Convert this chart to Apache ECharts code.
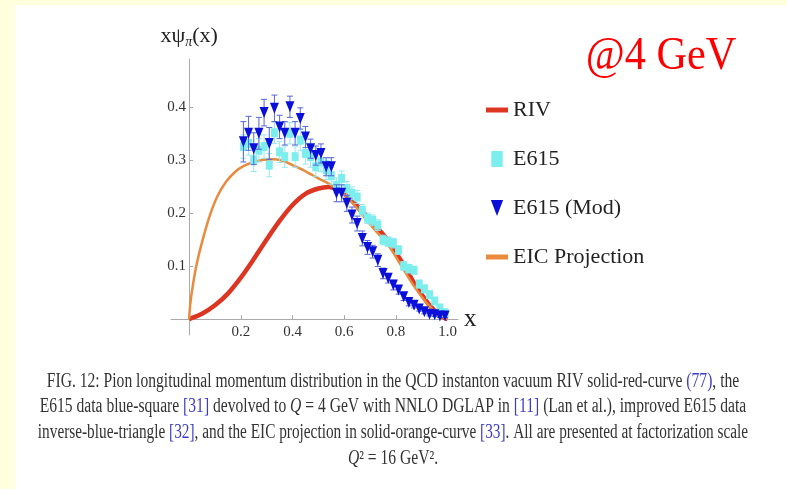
<!DOCTYPE html>
<html>
<head>
<meta charset="utf-8">
<script src="https://cdn.jsdelivr.net/npm/echarts@6/dist/echarts.min.js"></script>
<style>
  html, body { margin: 0; padding: 0; background: #ffffdd; }
  #panel { position: absolute; left: 15px; top: 5px; width: 772px; height: 484px; background: #fff; }
  #chart { position: absolute; left: 0; top: 0; width: 787px; height: 489px; }
</style>
</head>
<body>
<div id="panel"></div>
<div id="chart"></div>
<script>
// x positions of the E615 points (both sets share them)
var xPoints = [0.21, 0.23, 0.25, 0.27, 0.29, 0.31, 0.33, 0.35, 0.37, 0.39,
               0.41, 0.43, 0.45, 0.47, 0.49, 0.51, 0.53, 0.55, 0.57, 0.59,
               0.61, 0.63, 0.65, 0.67, 0.69, 0.71, 0.73, 0.75, 0.77, 0.79,
               0.81, 0.83, 0.85, 0.87, 0.89, 0.91, 0.93, 0.95, 0.97, 0.99];
var e615 = [0.325, 0.331, 0.300, 0.318, 0.325, 0.290, 0.351, 0.315, 0.306, 0.350,
            0.306, 0.337, 0.312, 0.306, 0.287, 0.296, 0.281, 0.270, 0.252, 0.265,
            0.246, 0.237, 0.230, 0.205, 0.190, 0.186, 0.177, 0.149, 0.146, 0.143,
            0.130, 0.100, 0.095, 0.092, 0.066, 0.057, 0.046, 0.034, 0.021, 0.012];
var e615Err = [0.022, 0.022, 0.022, 0.022, 0.022, 0.022, 0.02, 0.02, 0.02, 0.02,
               0.02, 0.02, 0.02, 0.02, 0.018, 0.018, 0.018, 0.016, 0.014, 0.014,
               0.013, 0.012, 0.012, 0.011, 0.01, 0.01, 0.01, 0.009, 0.009, 0.009,
               0.008, 0.008, 0.008, 0.007, 0.007, 0.006, 0.006, 0.005, 0.005, 0.005];
var e615Mod = [0.334, 0.350, 0.321, 0.350, 0.389, 0.331, 0.397, 0.362, 0.350, 0.400,
               0.350, 0.378, 0.343, 0.321, 0.308, 0.312, 0.287, 0.287, 0.237, 0.237,
               0.218, 0.196, 0.180, 0.152, 0.135, 0.127, 0.111, 0.086, 0.077, 0.064,
               0.055, 0.042, 0.031, 0.026, 0.019, 0.014, 0.009, 0.008, 0.006, 0.006];
var e615ModErr = [0.038, 0.032, 0.03, 0.03, 0.025, 0.03, 0.025, 0.022, 0.022, 0.02,
                  0.022, 0.02, 0.02, 0.018, 0.018, 0.018, 0.017, 0.017, 0.016, 0.016,
                  0.015, 0.015, 0.014, 0.014, 0.013, 0.012, 0.012, 0.01, 0.009, 0.009,
                  0.008, 0.007, 0.006, 0.005, 0.004, 0.004, 0.003, 0.003, 0.003, 0.003];
// curves [x, y]
var rivCurve = [[0, 0], [0.05, 0.01], [0.1, 0.026], [0.15, 0.048], [0.2, 0.078], [0.25, 0.113],
                [0.3, 0.15], [0.35, 0.185], [0.4, 0.215], [0.45, 0.236], [0.5, 0.246], [0.54, 0.249],
                [0.57, 0.245], [0.6, 0.236], [0.64, 0.218], [0.68, 0.198], [0.72, 0.176], [0.76, 0.154],
                [0.8, 0.125], [0.84, 0.094], [0.87, 0.068], [0.9, 0.046], [0.93, 0.026], [0.96, 0.011],
                [0.98, 0.004], [1.0, 0]];
var eicCurve = [[0, 0], [0.005, 0.03], [0.015, 0.065], [0.03, 0.105], [0.05, 0.145], [0.08, 0.195],
                [0.11, 0.232], [0.145, 0.26], [0.18, 0.278], [0.21, 0.288], [0.25, 0.296], [0.29, 0.3],
                [0.33, 0.301], [0.37, 0.297], [0.4, 0.29], [0.44, 0.281], [0.47, 0.273], [0.5, 0.265],
                [0.53, 0.258], [0.56, 0.249], [0.6, 0.234], [0.64, 0.214], [0.68, 0.19], [0.72, 0.167],
                [0.76, 0.146], [0.8, 0.117], [0.84, 0.085], [0.87, 0.062], [0.9, 0.042], [0.93, 0.024],
                [0.96, 0.01], [0.98, 0.004], [1.0, 0]];
var xTicks = [0.2, 0.4, 0.6, 0.8, 1.0];
var yTicks = [0.1, 0.2, 0.3, 0.4];

var serif = 'Liberation Serif';

function points(ys) {
    return xPoints.map(function (x, i) { return [x, ys[i]]; });
}
function bars(ys, errs) {
    return xPoints.map(function (x, i) { return [x, ys[i] - errs[i], ys[i] + errs[i]]; });
}
function errorBars(color) {
    return function (params, api) {
        var lo = api.coord([api.value(0), api.value(1)]);
        var hi = api.coord([api.value(0), api.value(2)]);
        var st = { stroke: color, lineWidth: 1 };
        return {
            type: 'group',
            children: [
                { type: 'line', shape: { x1: lo[0], y1: lo[1], x2: hi[0], y2: hi[1] }, style: st },
                { type: 'line', shape: { x1: lo[0] - 3, y1: lo[1], x2: lo[0] + 3, y2: lo[1] }, style: st },
                { type: 'line', shape: { x1: hi[0] - 3, y1: hi[1], x2: hi[0] + 3, y2: hi[1] }, style: st }
            ]
        };
    };
}

var chart = echarts.init(document.getElementById('chart'));
var option = {
    animation: false,
    textStyle: { fontFamily: serif },
    grid: { left: 171, top: 59, width: 287, height: 276 },
    legend: {
        orient: 'vertical',
        left: 481,
        top: 92,
        itemWidth: 22,
        itemHeight: 16,
        itemGap: 23,
        selectedMode: false,
        textStyle: { fontFamily: serif, fontSize: 22, color: '#222', lineHeight: 26 },
        data: [
            { name: 'RIV', icon: 'path://M0,0h22v5h-22z' },
            { name: 'E615', icon: 'path://M0,0h10v14h-10z' },
            { name: 'E615 (Mod)', icon: 'path://M0,0h13l-6.5,17z' },
            { name: 'EIC Projection', icon: 'path://M0,0h22v5h-22z' }
        ]
    },
    xAxis: {
        type: 'value',
        min: -0.07,
        max: 1.04,
        name: 'x',
        nameLocation: 'end',
        nameGap: 6,
        nameTextStyle: { fontFamily: serif, fontSize: 25, color: '#222', verticalAlign: 'middle', padding: [4, 0, 0, 0] },
        axisLine: { onZero: true, lineStyle: { color: '#aaa', width: 1 } },
        axisTick: { customValues: xTicks, inside: true, length: 4, lineStyle: { color: '#aaa' } },
        axisLabel: {
            customValues: xTicks,
            margin: -10,
            fontFamily: serif,
            fontSize: 15,
            color: '#333',
            formatter: function (v) { return v.toFixed(1); }
        },
        splitLine: { show: false }
    },
    yAxis: {
        type: 'value',
        min: -0.03,
        max: 0.49,
        name: '{a|xψ}{b|π}{a|(x)}',
        nameLocation: 'end',
        nameGap: 10,
        nameTextStyle: {
            rich: {
                a: { fontFamily: serif, fontSize: 22, color: '#222' },
                b: { fontFamily: serif, fontSize: 14, fontStyle: 'italic', color: '#222', padding: [12, 0, 0, 0] }
            }
        },
        axisLine: { onZero: true, lineStyle: { color: '#aaa', width: 1 } },
        axisTick: { customValues: yTicks, inside: true, length: 4, lineStyle: { color: '#aaa' } },
        axisLabel: {
            customValues: yTicks,
            margin: -15,
            fontFamily: serif,
            fontSize: 15,
            color: '#333',
            formatter: function (v) { return v.toFixed(1); }
        },
        splitLine: { show: false }
    },
    series: [
        {
            name: 'RIV', type: 'line', data: rivCurve, smooth: 0.3, showSymbol: false,
            color: '#dc3522', lineStyle: { width: 4.5, color: '#dc3522' }, z: 2
        },
        {
            name: 'EIC Projection', type: 'line', data: eicCurve, smooth: 0.3, showSymbol: false,
            color: '#ea8a3c', lineStyle: { width: 2.5, color: '#ea8a3c' }, z: 3
        },
        {
            name: 'E615 err', type: 'custom', data: bars(e615, e615Err),
            renderItem: errorBars('#98e6ef'), z: 4
        },
        {
            name: 'E615', type: 'scatter', data: points(e615), symbol: 'rect', symbolSize: [7, 9],
            color: '#7deeee', itemStyle: { color: '#7deeee', opacity: 1 }, z: 5
        },
        {
            name: 'E615 (Mod) err', type: 'custom', data: bars(e615Mod, e615ModErr),
            renderItem: errorBars('#5566d6'), z: 6
        },
        {
            name: 'E615 (Mod)', type: 'scatter', data: points(e615Mod), symbol: 'triangle',
            symbolRotate: 180, symbolSize: [9, 11],
            color: '#0a10d8', itemStyle: { color: '#0a10d8', opacity: 1 }, z: 7
        }
    ],
    graphic: [
        {
            type: 'text', x: 661, y: 57, scaleX: 0.92,
            style: { text: '@4 GeV', font: '46px "Liberation Serif"', fill: '#ff0000', align: 'center', verticalAlign: 'middle' }
        },
        {
            type: 'text', x: 393, y: 382, scaleX: 0.78,
            style: {
                text: 'FIG. 12: Pion longitudinal momentum distribution in the QCD instanton vacuum RIV solid-red-curve {b|(77)}, the',
                font: '20px "Liberation Serif"', fill: '#333', align: 'center', verticalAlign: 'middle',
                rich: { b: { fontFamily: serif, fontSize: 20, fill: '#3b3bc8' } }
            }
        },
        {
            type: 'text', x: 393, y: 407, scaleX: 0.78,
            style: {
                text: 'E615 data blue-square {b|[31]} devolved to {i|Q} = 4 GeV with NNLO DGLAP in {b|[11]} (Lan et al.), improved E615 data',
                font: '20px "Liberation Serif"', fill: '#333', align: 'center', verticalAlign: 'middle',
                rich: {
                    b: { fontFamily: serif, fontSize: 20, fill: '#3b3bc8' },
                    i: { fontFamily: serif, fontSize: 20, fontStyle: 'italic', fill: '#333' }
                }
            }
        },
        {
            type: 'text', x: 393, y: 433, scaleX: 0.765,
            style: {
                text: 'inverse-blue-triangle {b|[32]}, and the EIC projection in solid-orange-curve {b|[33]}. All are presented at factorization scale',
                font: '20px "Liberation Serif"', fill: '#333', align: 'center', verticalAlign: 'middle',
                rich: { b: { fontFamily: serif, fontSize: 20, fill: '#3b3bc8' } }
            }
        },
        {
            type: 'text', x: 393, y: 459, scaleX: 0.78,
            style: {
                text: '{i|Q}² = 16 GeV².',
                font: '20px "Liberation Serif"', fill: '#333', align: 'center', verticalAlign: 'middle',
                rich: { i: { fontFamily: serif, fontSize: 20, fontStyle: 'italic', fill: '#333' } }
            }
        }
    ]
};
chart.setOption(option);
</script>
</body>
</html>
